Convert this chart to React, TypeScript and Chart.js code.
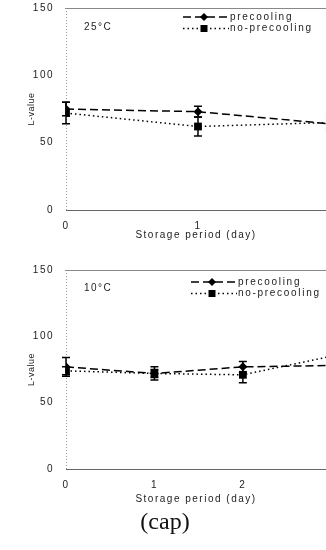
import React, { useEffect, useRef } from 'react';
import { Chart, registerables } from 'chart.js';

Chart.register(...registerables);

// ---------- data ----------
const yTickValues = [0, 50, 100, 150];
const seriesNames = ['precooling', 'no-precooling'];
const xTitleText = 'Storage period (day)';
const yTitleText = 'L-value';
const captionText = '(cap)';

const temp25 = '25°C';
const days25 = [0, 1, 2];
const pre25 = [75, 73, 64];
const pre25Err = [5, 4, 4];
const noPre25 = [72, 62, 65];
const noPre25Err = [8, 7, 5];

const temp10 = '10°C';
const days10 = [0, 1, 2, 3];
const pre10 = [77, 72, 77, 78];
const pre10Err = [7, 3, 4, 4];
const noPre10 = [74, 72, 71, 85];
const noPre10Err = [3, 5, 6, 4];

const FONT = "'Liberation Sans', Arial, sans-serif";
const TEXT = '#222';

type Panel = {
  temp: string;
  days: number[];
  pre: number[];
  preErr: number[];
  noPre: number[];
  noPreErr: number[];
  xMax: number;
  top: number;
  height: number;
  areaTop: number;
  xH: number;
  xTitlePad: number;
  legendX: number;
  legendY: number;
  tempX: number;
  tempY: number;
};

const panels: Panel[] = [
  {
    temp: temp25, days: days25, pre: pre25, preErr: pre25Err, noPre: noPre25, noPreErr: noPre25Err,
    xMax: 1.97, top: 0, height: 255, areaTop: 8, xH: 45, xTitlePad: 14,
    legendX: 183, legendY: 17, tempX: 84, tempY: 27,
  },
  {
    temp: temp10, days: days10, pre: pre10, preErr: pre10Err, noPre: noPre10, noPreErr: noPre10Err,
    xMax: 2.94, top: 255, height: 255, areaTop: 15, xH: 41, xTitlePad: 5,
    legendX: 191, legendY: 27, tempX: 84, tempY: 33,
  },
];

const spacingPlugin = {
  id: 'spacing',
  beforeDraw(chart: any) {
    chart.ctx.letterSpacing = '1.5px';
  },
  beforeDatasetsDraw(chart: any) {
    chart.ctx.letterSpacing = '2px';
  },
};

const framePlugin = {
  id: 'frame',
  beforeDatasetsDraw(chart: any) {
    const { ctx, chartArea: a } = chart;
    ctx.save();
    ctx.lineWidth = 1;
    // top border
    ctx.strokeStyle = '#888';
    ctx.beginPath();
    ctx.moveTo(a.left - 1, a.top + 0.5);
    ctx.lineTo(a.right, a.top + 0.5);
    ctx.stroke();
    // y axis
    ctx.strokeStyle = '#999';
    ctx.setLineDash([1, 2]);
    ctx.beginPath();
    ctx.moveTo(a.left + 0.5, a.top);
    ctx.lineTo(a.left + 0.5, a.bottom);
    ctx.stroke();
    ctx.setLineDash([]);
    // x axis
    ctx.strokeStyle = '#666';
    ctx.beginPath();
    ctx.moveTo(a.left, a.bottom + 0.5);
    ctx.lineTo(a.right, a.bottom + 0.5);
    ctx.stroke();
    ctx.restore();
  },
};

const errorPlugin = {
  id: 'errorbars',
  afterDatasetsDraw(chart: any) {
    const { ctx, chartArea: a } = chart;
    const ys = chart.scales.y;
    ctx.save();
    ctx.beginPath();
    ctx.rect(a.left - 6, a.top, a.right - a.left + 6, a.bottom - a.top);
    ctx.clip();
    ctx.strokeStyle = '#000';
    ctx.lineWidth = 1.5;
    chart.data.datasets.forEach((ds: any, i: number) => {
      const meta = chart.getDatasetMeta(i);
      meta.data.forEach((pt: any, j: number) => {
        const v = ds.data[j].y;
        const e = ds.errors[j];
        const x = pt.x;
        const y1 = ys.getPixelForValue(v + e);
        const y2 = ys.getPixelForValue(v - e);
        ctx.beginPath();
        ctx.moveTo(x, y1);
        ctx.lineTo(x, y2);
        ctx.moveTo(x - 4, y1);
        ctx.lineTo(x + 4, y1);
        ctx.moveTo(x - 4, y2);
        ctx.lineTo(x + 4, y2);
        ctx.stroke();
      });
    });
    ctx.restore();
  },
};

const legendPlugin = {
  id: 'customLegend',
  afterDraw(chart: any) {
    const { ctx, chartArea: a } = chart;
    const o = chart.options.plugins.customLegend;
    ctx.save();
    ctx.font = `10px ${FONT}`;
    ctx.fillStyle = TEXT;
    ctx.textBaseline = 'middle';
    ctx.textAlign = 'left';
    // temperature label
    ctx.letterSpacing = '1.5px';
    ctx.fillText(o.temp, o.tempX, o.tempY);
    // y axis title
    ctx.save();
    ctx.font = `9px ${FONT}`;
    ctx.letterSpacing = '0.5px';
    ctx.textAlign = 'center';
    ctx.translate(32, (a.top + a.bottom) / 2);
    ctx.rotate(-Math.PI / 2);
    ctx.fillText(yTitleText, 0, 0);
    ctx.restore();
    // series legend
    ctx.letterSpacing = '1.7px';
    chart.data.datasets.forEach((ds: any, i: number) => {
      const y = o.legendY + i * 11.5;
      const x0 = o.legendX;
      const x1 = x0 + 46;
      ctx.strokeStyle = '#000';
      ctx.lineWidth = 1.5;
      ctx.setLineDash(ds.borderDash);
      ctx.beginPath();
      ctx.moveTo(x0, y);
      ctx.lineTo(x1, y);
      ctx.stroke();
      ctx.setLineDash([]);
      const mx = x0 + 21;
      ctx.fillStyle = '#000';
      ctx.beginPath();
      if (ds.pointStyle === 'rectRot') {
        const r = 4;
        ctx.moveTo(mx, y - r);
        ctx.lineTo(mx + r, y);
        ctx.lineTo(mx, y + r);
        ctx.lineTo(mx - r, y);
        ctx.closePath();
      } else {
        ctx.rect(mx - 3.5, y - 3.5, 7, 7);
      }
      ctx.fill();
      ctx.fillStyle = TEXT;
      ctx.fillText(ds.label, x1 + 1, y);
    });
    ctx.restore();
  },
};

function PanelChart({ p }: { p: Panel }) {
  const ref = useRef<HTMLCanvasElement | null>(null);
  useEffect(() => {
    if (!ref.current) return;
    const chart = new Chart(ref.current, {
      type: 'line',
      data: {
        datasets: [
          {
            label: seriesNames[0],
            data: p.days.map((d, i) => ({ x: d, y: p.pre[i] })),
            errors: p.preErr,
            borderColor: '#000',
            backgroundColor: '#000',
            borderWidth: 1.5,
            borderDash: [8, 4],
            pointStyle: 'rectRot',
            pointRadius: 4.5,
            pointBorderWidth: 0,
            tension: 0,
          } as any,
          {
            label: seriesNames[1],
            data: p.days.map((d, i) => ({ x: d, y: p.noPre[i] })),
            errors: p.noPreErr,
            borderColor: '#000',
            backgroundColor: '#000',
            borderWidth: 1.5,
            borderDash: [1.5, 3],
            pointStyle: 'rect',
            pointRadius: 5.5,
            pointBorderWidth: 0,
            tension: 0,
          } as any,
        ],
      },
      options: {
        responsive: false,
        animation: false,
        layout: { autoPadding: false, padding: { top: p.areaTop, left: 0, right: 0, bottom: 0 } },
        plugins: {
          legend: { display: false },
          tooltip: { enabled: false },
          customLegend: {
            temp: p.temp, tempX: p.tempX, tempY: p.tempY,
            legendX: p.legendX, legendY: p.legendY,
          },
        } as any,
        scales: {
          x: {
            type: 'linear',
            min: 0,
            max: p.xMax,
            grid: { display: false, drawTicks: false },
            border: { display: false },
            ticks: {
              stepSize: 1,
              includeBounds: false,
              padding: 10,
              color: TEXT,
              font: { size: 10, family: FONT },
            },
            title: {
              display: true,
              text: xTitleText,
              color: TEXT,
              font: { size: 10, family: FONT },
              padding: { top: 0, bottom: p.xTitlePad },
            },
            afterFit: (s: any) => {
              s.height = p.xH;
              s.paddingLeft = 0;
              s.paddingRight = 0;
            },
          },
          y: {
            type: 'linear',
            min: yTickValues[0],
            max: yTickValues[yTickValues.length - 1],
            grid: { display: false, drawTicks: false },
            border: { display: false },
            afterBuildTicks: (s: any) => { s.ticks = yTickValues.map((v) => ({ value: v })); },
            ticks: {
              padding: 12,
              color: TEXT,
              font: { size: 10, family: FONT },
            },
            title: { display: false },
            afterFit: (s: any) => {
              s.width = 66;
              s.paddingTop = 0;
              s.paddingBottom = 0;
            },
          },
        },
      },
      plugins: [spacingPlugin, framePlugin, errorPlugin, legendPlugin],
    });
    return () => chart.destroy();
  }, [p]);
  return (
    <canvas
      ref={ref}
      width={326}
      height={p.height}
      style={{ position: 'absolute', left: 0, top: p.top, width: 326, height: p.height }}
    />
  );
}

export default function App() {
  return (
    <div
      style={{
        position: 'absolute',
        left: 0,
        top: 0,
        width: 326,
        height: 550,
        overflow: 'hidden',
        background: '#fff',
      }}
    >
      {panels.map((p, i) => (
        <PanelChart key={i} p={p} />
      ))}
      <div
        style={{
          position: 'absolute',
          left: 0,
          top: 507,
          width: 330,
          textAlign: 'center',
          fontFamily: "'Liberation Serif', 'Times New Roman', serif",
          fontSize: 24,
          color: '#111',
          lineHeight: '28px',
        }}
      >
        {captionText}
      </div>
    </div>
  );
}
